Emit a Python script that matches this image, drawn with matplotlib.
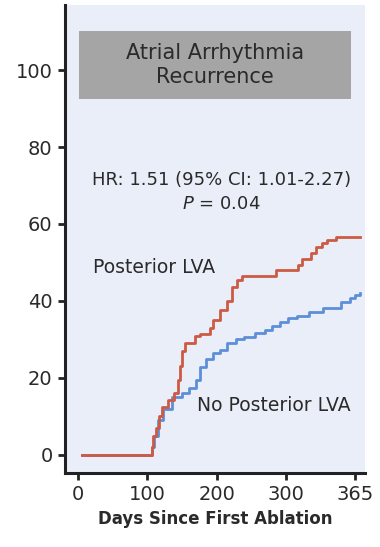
import numpy as np
import matplotlib
matplotlib.use("Agg")
import matplotlib.pyplot as plt
from matplotlib.patches import Rectangle

plt.rcParams['font.family'] = ['DejaVu Sans']

# Posterior LVA (step curve, days vs % recurrence)
post_days = [5, 106, 108, 112, 117, 121, 129, 139, 144, 147, 150, 154, 168, 176, 190, 195, 205,
             215, 222, 230, 236, 285, 311, 315, 324, 328, 334, 339, 347, 370]
post_vals = [0, 2, 5, 7, 10, 12.5, 14.3, 16, 19.5, 23, 27, 29, 31, 31.5, 33, 35, 37.7,
             40, 43.6, 45.5, 46.5, 48, 49.4, 51, 52.5, 54, 55, 55.8, 56.6, 56.6]

# No Posterior LVA
nopost_days = [5, 107, 110, 115, 123, 135, 150, 160, 170, 176, 185, 195, 205, 215, 228, 240,
               255, 270, 280, 292, 302, 310, 322, 335, 352, 360, 365, 370]
nopost_vals = [0, 2, 5, 9, 12, 15, 16, 17.5, 19.5, 22.8, 25, 26.4, 27.3, 29, 30, 30.7,
               31.6, 32.5, 33.5, 34.5, 35.5, 36.2, 37.1, 38.2, 39.8, 40.8, 41.5, 42]

x_ticks = [0, 100, 200, 300, 365]
y_ticks = [0, 20, 40, 60, 80, 100]

red = '#cc5a44'
blue = '#5d8fd8'
txt = '#2a2a2a'

def fwd(x):
    x = np.asarray(x, dtype=float)
    return np.where(x <= 300, x, 300 + (x - 300) / 0.65)

def inv(u):
    u = np.asarray(u, dtype=float)
    return np.where(u <= 300, u, 300 + (u - 300) * 0.65)

fig = plt.figure(figsize=(3.8, 5.47), dpi=100)
ax = fig.add_axes([65/380, 1-473/547, 300/380, 468/547])
ax.set_xscale('function', functions=(fwd, inv))
ax.set_facecolor('#eaeef8')

ax.step(nopost_days, nopost_vals, where='post', color=blue, lw=2)
ax.step(post_days, post_vals, where='post', color=red, lw=2)

ax.set_xlim(-19.2, 374.3)
ax.set_ylim(-4.7, 116.9)
ax.set_xticks(x_ticks)
ax.set_xticklabels([str(t) for t in x_ticks])
ax.set_yticks(y_ticks)
for s in ['top', 'right']:
    ax.spines[s].set_visible(False)
for s in ['left', 'bottom']:
    ax.spines[s].set_linewidth(2.2)
    ax.spines[s].set_color('#222222')
ax.tick_params(axis='both', length=5, width=2, color='#222222', labelsize=14,
               labelcolor=txt, pad=4)

ax.set_xlabel('Days Since First Ablation', fontsize=12, fontweight='bold',
              color=txt, labelpad=4)

ax.add_patch(Rectangle((0.047, 0.799), 0.906, 0.145, transform=ax.transAxes,
                       facecolor='#a5a5a5', edgecolor='none', zorder=3))
ax.text(0.5, 0.872, 'Atrial Arrhythmia\nRecurrence', transform=ax.transAxes,
        ha='center', va='center', fontsize=15, color=txt, zorder=4,
        linespacing=1.3)
ax.text(0.523, 0.626, 'HR: 1.51 (95% CI: 1.01-2.27)', transform=ax.transAxes,
        ha='center', va='center', fontsize=13, color=txt)
ax.text(0.52, 0.575, r'$\it{P}$ = 0.04', transform=ax.transAxes,
        ha='center', va='center', fontsize=13, color=txt)
ax.text(0.093, 0.44, 'Posterior LVA', transform=ax.transAxes,
        ha='left', va='center', fontsize=13.5, color=txt)
ax.text(0.44, 0.145, 'No Posterior LVA', transform=ax.transAxes,
        ha='left', va='center', fontsize=13.5, color=txt)

fig.savefig('out.png', dpi=100)
